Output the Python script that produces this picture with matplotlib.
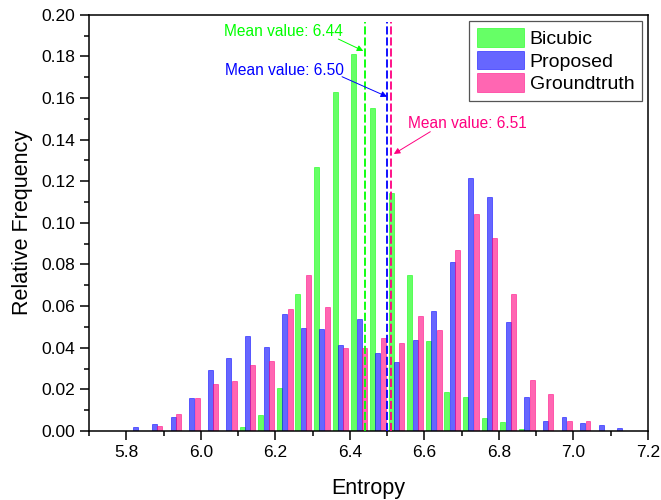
import matplotlib
matplotlib.use('Agg')
import matplotlib.pyplot as plt
from matplotlib.ticker import MultipleLocator, FormatStrFormatter
import numpy as np

plt.rcParams['font.family'] = ['Liberation Sans', 'DejaVu Sans']

# entropy histogram, bins of width 0.05 (centres listed)
bin_centers = [5.825, 5.875, 5.925, 5.975, 6.025, 6.075, 6.125, 6.175, 6.225,
               6.275, 6.325, 6.375, 6.425, 6.475, 6.525, 6.575, 6.625, 6.675,
               6.725, 6.775, 6.825, 6.875, 6.925, 6.975, 7.025, 7.075, 7.125]
bicubic = [0, 0, 0, 0, 0, 0, 0.0019, 0.0075, 0.0205, 0.0658, 0.1268, 0.1629,
           0.1813, 0.1552, 0.1142, 0.0748, 0.0431, 0.0186, 0.0165, 0.0061,
           0.0045, 0.0010, 0, 0, 0, 0, 0]
proposed = [0.0021, 0.0035, 0.0066, 0.0157, 0.0292, 0.0352, 0.0458, 0.0404,
            0.0561, 0.0493, 0.0488, 0.0413, 0.0538, 0.0373, 0.0331, 0.0437,
            0.0578, 0.0810, 0.1215, 0.1126, 0.0522, 0.0165, 0.0050, 0.0066,
            0.0038, 0.0029, 0.0014]
groundtruth = [0, 0.0026, 0.0080, 0.0160, 0.0226, 0.0242, 0.0317, 0.0336,
               0.0585, 0.0749, 0.0594, 0.0397, 0.0397, 0.0448, 0.0421, 0.0554,
               0.0484, 0.0871, 0.1043, 0.0926, 0.0658, 0.0245, 0.0176, 0.0050,
               0.0050, 0, 0]

series_names = ['Bicubic', 'Proposed', 'Groundtruth']
mean_values = [6.44, 6.50, 6.51]
line_colors = ['#00FF00', '#0000FF', '#FF0080']

fig = plt.figure(figsize=(6.61, 5.0), dpi=100)
ax = fig.add_axes([0.135, 0.138, 0.845, 0.8326])

x = np.array(bin_centers)
w = 0.0145
for k, (vals, c, name) in enumerate(zip([bicubic, proposed, groundtruth], line_colors, series_names)):
    ax.bar(x + (k - 1) * w, vals, width=w * 0.92, color=c, alpha=0.6,
           edgecolor=c, linewidth=0.6, label=name, zorder=2)

# dashed lines at the mean of each distribution
for m, c in zip(mean_values, line_colors):
    ax.vlines(m, 0, 0.1965, colors=c, linestyles=(0, (4.5, 1.6)), linewidth=1.3, zorder=3)

# labels with arrows pointing to the mean lines
labels_pos = [(6.061, 0.1918), (6.064, 0.1730), (6.557, 0.1475)]
arrow_tail = [(6.369, 0.1883), (6.379, 0.1702), (6.616, 0.1438)]
arrow_head = [(6.436, 0.1826), (6.500, 0.1606), (6.518, 0.1331)]
for m, c, tp, t0, t1 in zip(mean_values, line_colors, labels_pos, arrow_tail, arrow_head):
    ax.text(tp[0], tp[1], 'Mean value: %.2f' % m, color=c, fontsize=11.2,
            ha='left', va='center', zorder=4)
    ax.annotate('', xy=t1, xytext=t0,
                arrowprops=dict(arrowstyle='-|>', color=c, lw=0.7,
                                mutation_scale=9, shrinkA=0, shrinkB=0),
                zorder=4)

ax.set_xlim(5.7, 7.2)
ax.set_ylim(0, 0.20)
ax.xaxis.set_major_locator(MultipleLocator(0.2))
ax.xaxis.set_minor_locator(MultipleLocator(0.1))
ax.yaxis.set_major_locator(MultipleLocator(0.02))
ax.yaxis.set_minor_locator(MultipleLocator(0.01))
ax.xaxis.set_major_formatter(FormatStrFormatter('%.1f'))
ax.yaxis.set_major_formatter(FormatStrFormatter('%.2f'))
ax.tick_params(which='both', direction='out', top=False, right=False,
               width=1.1, labelsize=12.5)
ax.tick_params(which='major', length=6.5)
ax.tick_params(which='minor', length=3.5)
for s in ax.spines.values():
    s.set_linewidth(1.1)

ax.set_xlabel('Entropy', fontsize=15.5, labelpad=13)
ax.set_ylabel('Relative Frequency', fontsize=15.5, labelpad=6)

leg = ax.legend(loc='upper right', fontsize=14, fancybox=False, framealpha=1,
                edgecolor='#555555', handlelength=2.4, handleheight=1.1,
                labelspacing=0.12, handletextpad=0.3, borderpad=0.4,
                borderaxespad=0.3)
leg.get_frame().set_linewidth(0.9)

fig.savefig('out.png', dpi=100)
